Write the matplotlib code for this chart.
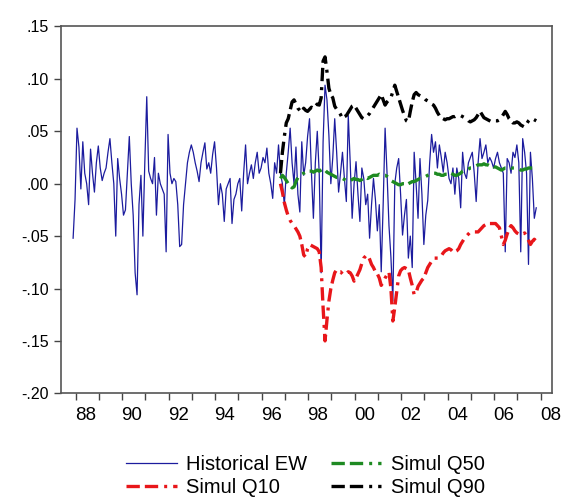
import matplotlib
matplotlib.use("Agg")
import matplotlib.pyplot as plt
import numpy as np

# monthly data, first obs Dec 1987
hist_ew = [
    -0.052,
    -0.015, 0.053, 0.035, -0.005, 0.040, 0.010, 0.000, -0.020, 0.033, 0.010, -0.008, 0.020,
    0.036, 0.015, 0.003, 0.010, 0.015, 0.030, 0.043, 0.020, 0.000, -0.050, 0.024, 0.005,
    -0.010, -0.030, -0.025, 0.010, 0.045, 0.000, -0.030, -0.085, -0.106, -0.020, 0.008, -0.050,
    0.020, 0.083, 0.012, 0.005, 0.000, 0.025, -0.030, 0.010, 0.000, -0.005, -0.010, -0.065,
    0.047, 0.010, 0.000, 0.005, 0.002, -0.020, -0.060, -0.058, -0.020, 0.000, 0.020, 0.030,
    0.037, 0.030, 0.020, 0.012, 0.002, 0.020, 0.030, 0.039, 0.014, 0.020, 0.010, 0.028,
    0.040, 0.015, -0.020, 0.000, -0.010, -0.036, -0.005, 0.000, 0.005, -0.038, -0.015, -0.010,
    0.000, 0.005, -0.026, 0.010, 0.037, 0.000, 0.010, 0.018, 0.005, 0.020, 0.030, 0.010,
    0.015, 0.025, 0.020, 0.034, 0.010, 0.000, -0.014, 0.020, 0.010, 0.037, 0.010, 0.000,
    -0.020, 0.010, 0.030, 0.053, 0.020, 0.000, 0.035, -0.010, -0.027, 0.040, 0.008, 0.020,
    0.045, 0.062, 0.010, -0.033, 0.020, 0.050, 0.010, -0.085, 0.040, 0.094, 0.080, 0.046,
    0.000, 0.025, 0.062, 0.030, -0.008, 0.010, 0.030, 0.005, -0.017, 0.065, 0.020, -0.033,
    0.000, 0.021, -0.010, -0.036, 0.015, 0.005, -0.020, -0.010, -0.052, -0.020, 0.005, -0.015,
    -0.045, -0.020, -0.084, -0.020, 0.053, 0.010, -0.040, -0.070, -0.112, 0.000, 0.015, 0.024,
    -0.010, -0.049, -0.030, -0.015, -0.071, -0.050, -0.080, 0.030, 0.000, -0.033, 0.024, -0.010,
    -0.058, -0.030, -0.016, 0.020, 0.047, 0.030, 0.040, 0.015, 0.037, 0.025, 0.011, 0.030,
    0.020, 0.005, 0.000, 0.015, -0.010, 0.015, 0.005, -0.023, 0.030, 0.010, 0.005, 0.020,
    0.025, 0.030, 0.010, -0.017, 0.020, 0.043, 0.024, 0.030, 0.037, 0.020, 0.025, 0.021,
    0.015, 0.024, 0.030, 0.020, 0.015, 0.010, -0.065, 0.024, 0.020, 0.010, 0.030, 0.025,
    0.037, 0.020, -0.065, 0.043, 0.030, 0.010, -0.077, 0.030, 0.005, -0.033, -0.023,
]

# simulated quantiles, first obs Nov 1996
simul_q10 = [
    0.000, -0.008, -0.018, -0.025, -0.031, -0.035, -0.038, -0.040, -0.043, -0.046,
    -0.050, -0.058, -0.068, -0.070, -0.062, -0.058, -0.059, -0.060, -0.061, -0.062,
    -0.065, -0.080, -0.118, -0.150, -0.130, -0.112, -0.100, -0.092, -0.085, -0.082,
    -0.084, -0.084, -0.086, -0.087, -0.086, -0.084, -0.085, -0.088, -0.093, -0.090,
    -0.086, -0.082, -0.076, -0.071, -0.069, -0.068, -0.072, -0.077, -0.080, -0.084,
    -0.086, -0.090, -0.097, -0.094, -0.090, -0.087, -0.084, -0.100, -0.131, -0.118,
    -0.103, -0.088, -0.083, -0.081, -0.080, -0.081, -0.082, -0.090, -0.097, -0.106,
    -0.104, -0.098, -0.095, -0.092, -0.090, -0.085, -0.080, -0.077, -0.074, -0.071,
    -0.071, -0.071, -0.071, -0.069, -0.066, -0.064, -0.063, -0.062, -0.063, -0.065,
    -0.065, -0.064, -0.062, -0.058, -0.055, -0.052, -0.050, -0.048, -0.046, -0.046,
    -0.046, -0.046, -0.046, -0.044, -0.042, -0.040, -0.039, -0.038, -0.038, -0.038,
    -0.038, -0.038, -0.040, -0.042, -0.050, -0.058, -0.054, -0.048, -0.043, -0.040,
    -0.042, -0.045, -0.047, -0.048, -0.049, -0.048, -0.047, -0.050, -0.054, -0.058,
    -0.055, -0.053, -0.055,
]

simul_q50 = [
    0.005, 0.008, 0.006, 0.003, 0.000, -0.002, -0.004, -0.003, 0.002, 0.006,
    0.008, 0.009, 0.010, 0.011, 0.010, 0.012, 0.012, 0.011, 0.012, 0.013,
    0.012, 0.013, 0.014, 0.013, 0.011, 0.010, 0.009, 0.008, 0.007, 0.006,
    0.006, 0.005, 0.005, 0.004, 0.003, 0.002, 0.003, 0.004, 0.005, 0.004,
    0.004, 0.003, 0.004, 0.005, 0.006, 0.005, 0.006, 0.007, 0.008, 0.008,
    0.008, 0.009, 0.008, 0.008, 0.008, 0.007, 0.005, 0.003, 0.002, 0.001,
    0.000, -0.001, -0.001, 0.000, 0.000, -0.001, 0.000, 0.001, 0.002, 0.002,
    0.003, 0.004, 0.005, 0.005, 0.006, 0.007, 0.008, 0.009, 0.010, 0.010,
    0.010, 0.009, 0.009, 0.008, 0.008, 0.009, 0.009, 0.010, 0.010, 0.009,
    0.008, 0.008, 0.009, 0.010, 0.012, 0.013, 0.013, 0.014, 0.015, 0.015,
    0.016, 0.017, 0.018, 0.018, 0.018, 0.019, 0.018, 0.018, 0.017, 0.017,
    0.016, 0.016, 0.015, 0.014, 0.013, 0.014, 0.015, 0.015, 0.016, 0.015,
    0.015, 0.015, 0.014, 0.014, 0.013, 0.013, 0.014, 0.014, 0.015, 0.015,
    0.015, 0.015, 0.014,
]

simul_q90 = [
    0.010, 0.030, 0.045, 0.058, 0.062, 0.070, 0.078, 0.080, 0.076, 0.072,
    0.070, 0.068, 0.072, 0.070, 0.069, 0.071, 0.073, 0.072, 0.074, 0.076,
    0.075, 0.082, 0.117, 0.121, 0.107, 0.091, 0.085, 0.082, 0.074, 0.071,
    0.069, 0.066, 0.062, 0.064, 0.065, 0.068, 0.071, 0.074, 0.075, 0.072,
    0.069, 0.066, 0.063, 0.062, 0.063, 0.065, 0.067, 0.070, 0.073, 0.076,
    0.079, 0.082, 0.085, 0.080, 0.075, 0.078, 0.080, 0.082, 0.088, 0.094,
    0.088, 0.082, 0.076, 0.070, 0.065, 0.060, 0.059, 0.069, 0.078, 0.085,
    0.087, 0.085, 0.084, 0.083, 0.082, 0.080, 0.079, 0.078, 0.076, 0.075,
    0.072, 0.068, 0.065, 0.063, 0.062, 0.061, 0.062, 0.062, 0.063, 0.064,
    0.064, 0.065, 0.065, 0.065, 0.064, 0.063, 0.062, 0.060, 0.059, 0.060,
    0.061, 0.063, 0.066, 0.069, 0.066, 0.063, 0.062, 0.061, 0.060, 0.059,
    0.059, 0.060, 0.060, 0.061, 0.063, 0.066, 0.069, 0.066, 0.062, 0.060,
    0.058, 0.058, 0.059, 0.058, 0.056, 0.055, 0.054, 0.057, 0.060, 0.062,
    0.062, 0.061, 0.060,
]

year_labels = ["88", "90", "92", "94", "96", "98", "00", "02", "04", "06", "08"]
ytick_values = [0.15, 0.10, 0.05, 0.00, -0.05, -0.10, -0.15, -0.20]
ytick_labels = [".15", ".10", ".05", ".00", "-.05", "-.10", "-.15", "-.20"]


def main():
    plt.rcParams['font.family'] = ['Liberation Sans', 'DejaVu Sans']

    # decimal-year positions of the monthly observations
    t_hist = 1988 + (np.arange(len(hist_ew)) - 1.3) / 12
    t_sim = 1988 + (np.arange(len(simul_q10)) + 105.7) / 12

    fig = plt.figure(figsize=(5.71, 4.98), dpi=100)
    ax = fig.add_axes([0.1068, 0.2102, 0.8605, 0.7366])

    dash = (0, (4.0, 1.5, 4.0, 1.8, 0.9, 1.8))
    ax.plot(t_hist, hist_ew, color='#1c1c9e', lw=0.9, label='Historical EW')
    ax.plot(t_sim, simul_q10, color='#e8161a', lw=2.4, linestyle=dash, label='Simul Q10')
    ax.plot(t_sim, simul_q50, color='#1e8a22', lw=2.4, linestyle=dash, label='Simul Q50')
    ax.plot(t_sim, simul_q90, color='black', lw=2.4, linestyle=dash, label='Simul Q90')

    ax.set_xlim(1987.37, 2008.5)
    ax.set_ylim(-0.20, 0.15)

    years = np.arange(1988, 2009)
    ax.set_xticks(years)
    ax.set_xticklabels([''] * len(years))
    ax.set_xticks(np.arange(1988, 2009, 2) + 0.42, minor=True)
    ax.set_xticklabels(year_labels, minor=True)
    ax.set_yticks(ytick_values)
    ax.set_yticklabels(ytick_labels)

    ax.tick_params(axis='x', which='major', direction='out', length=5, width=1, color='#444444')
    ax.tick_params(axis='x', which='minor', length=0, pad=9.5, labelsize=13.5)
    ax.tick_params(axis='y', direction='out', length=5, width=1, color='#444444', pad=4, labelsize=11.5)

    for s in ax.spines.values():
        s.set_color('#555555')
        s.set_linewidth(1.2)

    fig.legend(loc='center', bbox_to_anchor=(0.535, 0.045), ncol=2, frameon=False,
               fontsize=14.5, handlelength=2.5, handletextpad=0.45, columnspacing=1.2,
               labelspacing=0.2, borderpad=0)

    fig.savefig('out.png', dpi=100)


if __name__ == '__main__':
    main()
